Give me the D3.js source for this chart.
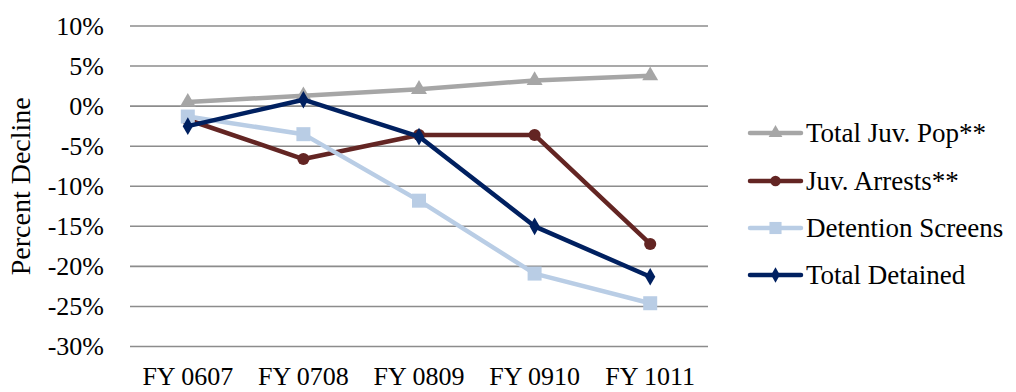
<!DOCTYPE html>
<html>
<head>
<meta charset="utf-8">
<script src="https://cdn.jsdelivr.net/npm/d3@7"></script>
<style>
  html, body { margin: 0; padding: 0; background: #fff; }
  svg text { font-family: "Liberation Serif", "DejaVu Serif", serif; fill: #000; }
</style>
</head>
<body>
<svg id="chart" width="1016" height="392"></svg>
<script>
// Fiscal years on the x axis
const years = ["FY 0607", "FY 0708", "FY 0809", "FY 0910", "FY 1011"];

// Percent change for each measure, by year
const totalJuvPop      = [0.5, 1.3, 2.1, 3.2, 3.8];
const juvArrests       = [-1.7, -6.6, -3.6, -3.6, -17.2];
const detentionScreens = [-1.3, -3.5, -11.8, -20.9, -24.6];
const totalDetained    = [-2.5, 0.8, -3.8, -15.0, -21.3];

const seriesNames = ["Total Juv. Pop**", "Juv. Arrests**", "Detention Screens", "Total Detained"];
const yTicks = [10, 5, 0, -5, -10, -15, -20, -25, -30];

const series = [
  { name: seriesNames[0], values: totalJuvPop,      color: "#A6A6A6", marker: d3.symbolTriangle, size: 110 },
  { name: seriesNames[1], values: juvArrests,       color: "#632523", marker: d3.symbolCircle,   size: 115 },
  { name: seriesNames[2], values: detentionScreens, color: "#B9CDE5", marker: d3.symbolSquare,   size: 196 },
  { name: seriesNames[3], values: totalDetained,    color: "#002060", marker: d3.symbolDiamond,  size: 90 }
];

const svg = d3.select("#chart");
const plot = { left: 130, right: 708, top: 26, bottom: 346.5 };

const x = d3.scaleBand().domain(years).range([plot.left, plot.right]);
const y = d3.scaleLinear().domain([-30, 10]).range([plot.bottom, plot.top]);

// horizontal gridlines
svg.append("g")
  .selectAll("line")
  .data(yTicks)
  .join("line")
  .attr("x1", plot.left).attr("x2", plot.right)
  .attr("y1", d => y(d)).attr("y2", d => y(d))
  .attr("stroke", "#8C8C8C")
  .attr("stroke-width", 1.6);

// y tick labels
svg.append("g")
  .selectAll("text")
  .data(yTicks)
  .join("text")
  .attr("x", 104)
  .attr("y", d => y(d))
  .attr("dy", "0.34em")
  .attr("text-anchor", "end")
  .attr("font-size", 26)
  .text(d => d + "%");

// x tick labels
svg.append("g")
  .selectAll("text")
  .data(years)
  .join("text")
  .attr("x", d => x(d) + x.bandwidth() / 2)
  .attr("y", 385)
  .attr("text-anchor", "middle")
  .attr("font-size", 26)
  .text(d => d);

// y axis title
svg.append("text")
  .attr("transform", `translate(30, ${(plot.top + plot.bottom) / 2}) rotate(-90)`)
  .attr("text-anchor", "middle")
  .attr("font-size", 28)
  .text("Percent Decline");

const cx = (d, i) => x(years[i]) + x.bandwidth() / 2;
const line = d3.line().x(cx).y(d => y(d));

// lines and markers, one group per measure
series.forEach(s => {
  const g = svg.append("g");
  g.append("path")
    .datum(s.values)
    .attr("d", line)
    .attr("fill", "none")
    .attr("stroke", s.color)
    .attr("stroke-width", 4.5)
    .attr("stroke-linejoin", "round")
    .attr("stroke-linecap", "round");
  g.selectAll("path.m")
    .data(s.values)
    .join("path")
    .attr("class", "m")
    .attr("transform", (d, i) => `translate(${cx(d, i)},${y(d)})`)
    .attr("d", d3.symbol().type(s.marker).size(s.size))
    .attr("fill", s.color);
});

// legend
const legend = svg.append("g");
const rowY = [133, 181, 228, 275];
series.forEach((s, i) => {
  const g = legend.append("g").attr("transform", `translate(0, ${rowY[i]})`);
  g.append("line")
    .attr("x1", 750).attr("x2", 801)
    .attr("stroke", s.color)
    .attr("stroke-width", 4.5)
    .attr("stroke-linecap", "round");
  g.append("path")
    .attr("transform", "translate(775.5, 0)")
    .attr("d", d3.symbol().type(s.marker).size(s.size * 0.75))
    .attr("fill", s.color);
  g.append("text")
    .attr("x", 806)
    .attr("dy", "0.34em")
    .attr("font-size", 27)
    .text(s.name);
});
</script>
</body>
</html>
